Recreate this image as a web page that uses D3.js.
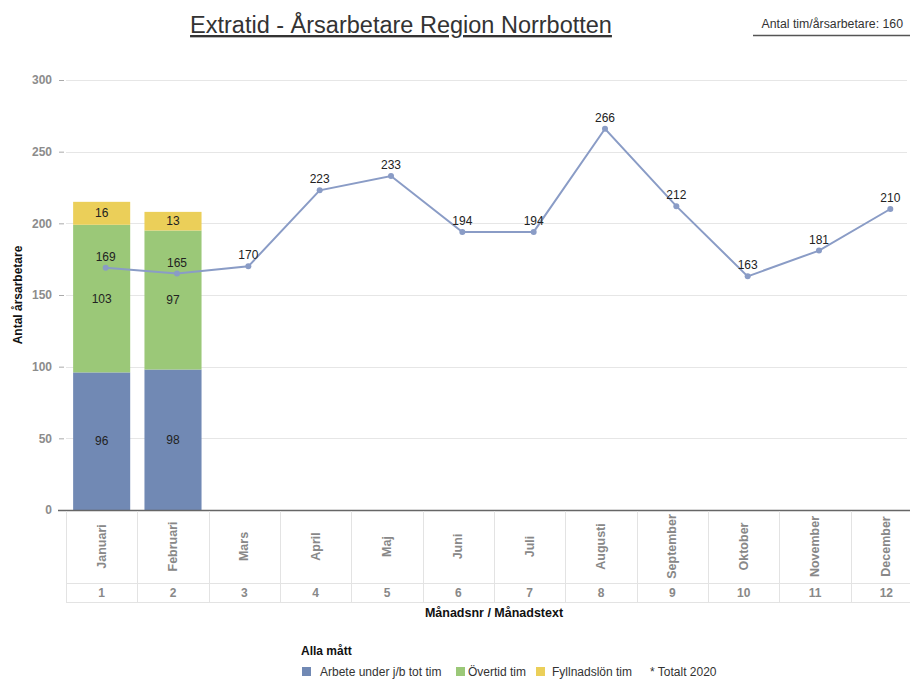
<!DOCTYPE html>
<html>
<head>
<meta charset="utf-8">
<script src="https://cdn.jsdelivr.net/npm/d3@7"></script>
<style>
  body{margin:0;background:#fff;font-family:Arial,"Liberation Sans",sans-serif;}
  svg text{font-family:Arial,"Liberation Sans",sans-serif;}
</style>
</head>
<body>
<div id="chart"></div>
<script>
const monthNr = ["1","2","3","4","5","6","7","8","9","10","11","12"];
const monthText = ["Januari","Februari","Mars","April","Maj","Juni","Juli","Augusti","September","Oktober","November","December"];
// stacked bars (only Jan, Feb have values)
const arbete = [96, 98];
const overtid = [103, 97];
const fyllnad = [16, 13];
// line
const totalt = [169,165,170,223,233,194,194,266,212,163,181,210];
const yTicks = [0,50,100,150,200,250,300];
const seriesNames = ["Arbete under j/b tot tim","Övertid tim","Fyllnadslön tim"];
const colors = ["#7189b4","#9bc878","#ebcf59"];

const W = 910, H = 679;
const margin = {left:66, top:80, right:-12, bottom:169};

const svg = d3.select("#chart").append("svg")
    .attr("width", W).attr("height", H);

const x = d3.scaleBand().domain(monthNr)
    .range([margin.left, W - margin.right]).paddingInner(0.2).paddingOuter(0.1);
const xb = d3.scaleBand().domain(monthNr).range([margin.left, W - margin.right]);
const y = d3.scaleLinear().domain([0,300]).range([H - margin.bottom, margin.top]);

// title
svg.append("text").attr("x", 401).attr("y", 33).attr("text-anchor","middle")
  .attr("font-size", 23.5).attr("fill","#333").style("text-decoration","underline")
  .text("Extratid - Årsarbetare Region Norrbotten");
svg.append("text").attr("x", 903).attr("y", 28).attr("text-anchor","end")
  .attr("font-size", 12.3).attr("fill","#333").text("Antal tim/årsarbetare: 160");
svg.append("line").attr("x1",753).attr("x2",910).attr("y1",35.5).attr("y2",35.5)
  .attr("stroke","#555").attr("stroke-width",1.5);

// grid
svg.append("g").selectAll("line").data(yTicks.slice(1)).join("line")
  .attr("x1", margin.left).attr("x2", 907)
  .attr("y1", d => Math.round(y(d))+0.5).attr("y2", d => Math.round(y(d))+0.5)
  .attr("stroke","#e6e6e6");

// y axis
const yAxis = svg.append("g").attr("transform",`translate(${margin.left},0)`)
  .call(d3.axisLeft(y).tickValues(yTicks).tickSize(6).tickPadding(6));
yAxis.select(".domain").remove();
yAxis.selectAll(".tick line").attr("stroke","#aaa").attr("x1",-2).attr("x2",-7);
yAxis.selectAll(".tick text").attr("fill","#8c8c8c").attr("font-size",12)
  .attr("font-weight","bold").attr("x",-14);

svg.append("text").attr("transform",`translate(22,${y(150)}) rotate(-90)`)
  .attr("text-anchor","middle").attr("font-size",12).attr("font-weight","bold")
  .attr("fill","#111").text("Antal årsarbetare");

// stacked bars
const stackData = arbete.map((d,i) => ({m: monthNr[i], a: d, o: overtid[i], f: fyllnad[i]}));
const stack = d3.stack().keys(["a","o","f"])(stackData);
const layers = svg.append("g").selectAll("g").data(stack).join("g")
  .attr("fill", (d,i) => colors[i]);
layers.selectAll("rect").data(d => d).join("rect")
  .attr("x", d => x(d.data.m)).attr("width", x.bandwidth())
  .attr("y", d => y(d[1])).attr("height", d => y(d[0]) - y(d[1]));
layers.selectAll("text").data(d => d).join("text")
  .attr("x", d => x(d.data.m) + x.bandwidth()/2)
  .attr("y", d => (y(d[0]) + y(d[1]))/2 + 4)
  .attr("text-anchor","middle").attr("font-size",12).attr("fill","#222")
  .text(d => d[1] - d[0]);

// x axis table
const base = y(0);
svg.append("line").attr("x1",margin.left-8).attr("x2",910).attr("y1",base+0.5).attr("y2",base+0.5)
  .attr("stroke","#666").attr("stroke-width",1.5);
const cells = svg.append("g").selectAll("g").data(monthNr).join("g");
cells.append("line").attr("x1", d => Math.round(xb(d))+0.5).attr("x2", d => Math.round(xb(d))+0.5)
  .attr("y1", base+1).attr("y2", 602).attr("stroke","#e3e3e3");
svg.append("line").attr("x1",margin.left).attr("x2",910).attr("y1",583.5).attr("y2",583.5).attr("stroke","#e3e3e3");
svg.append("line").attr("x1",margin.left).attr("x2",910).attr("y1",602.5).attr("y2",602.5).attr("stroke","#e3e3e3");
cells.append("text")
  .attr("transform",(d,i) => `translate(${xb(d)+xb.bandwidth()/2+4},${(base+583)/2}) rotate(-90)`)
  .attr("text-anchor","middle").attr("font-size",12.5).attr("font-weight","bold").attr("fill","#888")
  .text((d,i) => monthText[i]);
cells.append("text").attr("x", d => xb(d)+xb.bandwidth()/2).attr("y", 597)
  .attr("text-anchor","middle").attr("font-size",12).attr("font-weight","bold").attr("fill","#888")
  .text(d => d);
svg.append("text").attr("x", 494).attr("y", 617).attr("text-anchor","middle")
  .attr("font-size",12.5).attr("font-weight","bold").attr("fill","#111").text("Månadsnr / Månadstext");

// line
const cx = d => xb(d) + xb.bandwidth()/2 + 4;
svg.append("path").datum(totalt)
  .attr("fill","none").attr("stroke","#8a9cc6").attr("stroke-width",2)
  .attr("d", d3.line().x((d,i) => cx(monthNr[i])).y(d => y(d)));
svg.append("g").selectAll("circle").data(totalt).join("circle")
  .attr("cx",(d,i) => cx(monthNr[i])).attr("cy", d => y(d)).attr("r",3)
  .attr("fill","#8a9cc6");
svg.append("g").selectAll("text").data(totalt).join("text")
  .attr("x",(d,i) => cx(monthNr[i])).attr("y", d => y(d) - 7)
  .attr("text-anchor","middle").attr("font-size",12).attr("fill","#222")
  .text(d => d);

// legend
svg.append("text").attr("x",301).attr("y",655).attr("font-size",12).attr("font-weight","bold")
  .attr("fill","#111").text("Alla mått");
const legX = [302, 456, 536];
const legTextX = [320, 468, 552];
seriesNames.forEach((s,i) => {
  svg.append("rect").attr("x",legX[i]).attr("y",667).attr("width",9).attr("height",9).attr("fill",colors[i]);
  svg.append("text").attr("x",legTextX[i]).attr("y",676).attr("font-size",12).attr("fill","#333").text(s);
});
svg.append("text").attr("x",650).attr("y",676).attr("font-size",12).attr("fill","#333").text("* Totalt 2020");
</script>
</body>
</html>
